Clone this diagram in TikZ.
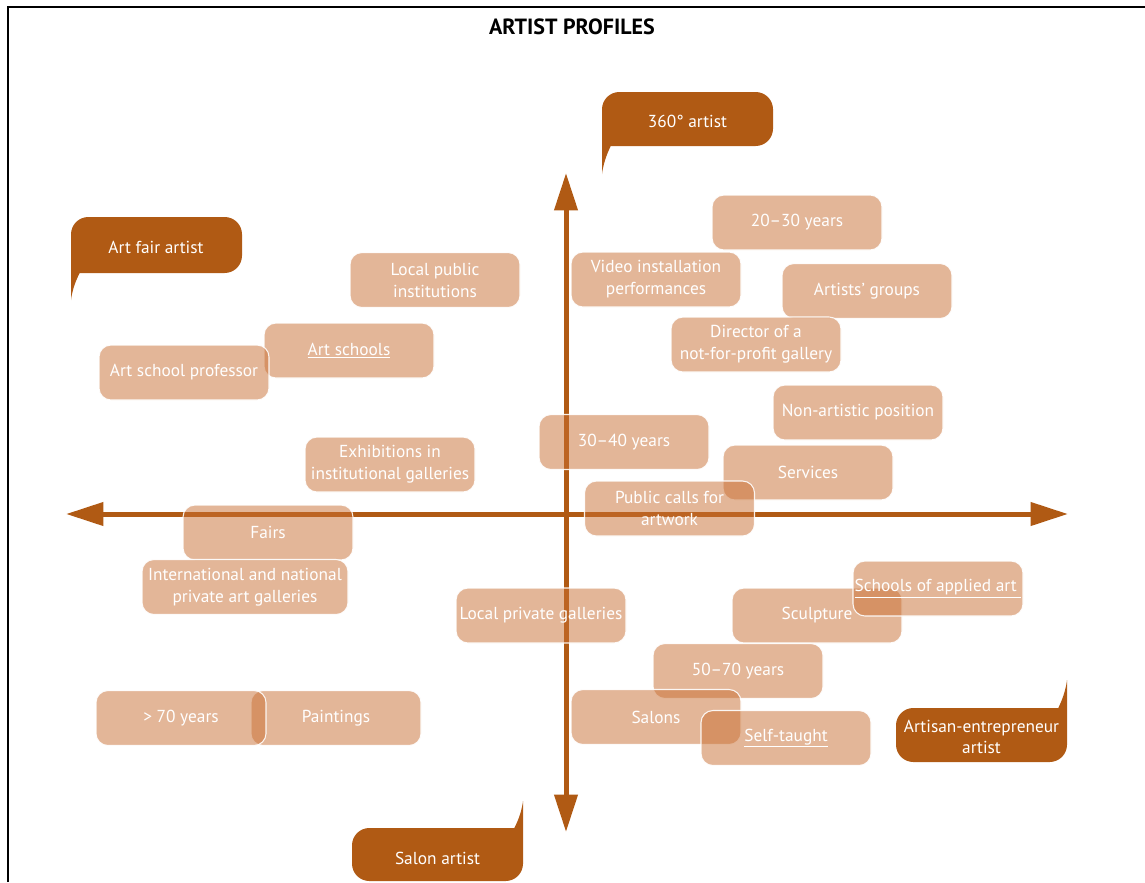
\documentclass[tikz,border=0pt]{standalone}
\usepackage{fontspec}
\setmainfont{PT Sans}
\usetikzlibrary{arrows.meta}
\definecolor{darkbrown}{RGB}{176,90,20}
\definecolor{tanfill}{RGB}{200,110,50}
\tikzset{
  lbox/.style={rounded corners=9pt, fill=tanfill, fill opacity=0.5, text opacity=1,
    draw=white, draw opacity=0.9, line width=0.8pt, text=white, align=center,
    minimum width=127.5pt, minimum height=41.25pt, inner sep=1pt,
    font=\fontsize{13}{16.5}\selectfont},
  ctext/.style={text=white, align=center, font=\fontsize{13}{16}\selectfont, inner sep=0pt},
  callout/.style={fill=darkbrown},
  axis/.style={draw=darkbrown, line width=3.75pt, -{Triangle[length=28pt,width=17pt]}},
}
\begin{document}
\begin{tikzpicture}[x=0.75pt,y=-0.75pt]
\useasboundingbox (0,0) rectangle (1145,882);
% frame
\draw[line width=1.6pt] (8,882) -- (8,7) -- (1145,7);
% title
\node[font=\bfseries\fontsize{16.5}{18}\selectfont] (title) at (572,27) {ARTIST PROFILES};
% axes
\coordinate (xl) at (66,514);
\coordinate (xr) at (1068,514);
\coordinate (yt) at (566,173);
\coordinate (yb) at (566,832);
\coordinate (o) at (566,514);
\draw[axis] (o) -- (xl);
\draw[axis] (o) -- (xr);
\draw[axis] (o) -- (yt);
\draw[axis] (o) -- (yb);
% callouts
\fill[callout] (602,174) [rounded corners=13] -- (602,92) -- (773,92) -- (773,146) -- (628,146) [sharp corners] .. controls (611,146) and (604,158) .. (602,174) -- cycle;
\node[ctext] (c360) at (687.5,121) {360° artist};
\fill[callout] (71,300) [rounded corners=13] -- (71,217) -- (242,217) -- (242,273) -- (97,273) [sharp corners] .. controls (80,273) and (73,284) .. (71,300) -- cycle;
\node[ctext] (cfair) at (156,247) {Art fair artist};
\fill[callout] (1067,680) [rounded corners=13] -- (1067,762) -- (896,762) -- (896,708) -- (1041,708) [sharp corners] .. controls (1058,708) and (1065,696) .. (1067,680) -- cycle;
\node[ctext] (cartisan) at (981.5,737) {Artisan-entrepreneur\\artist};
\fill[callout] (523,801) [rounded corners=13] -- (523,881) -- (352,881) -- (352,828) -- (497,828) [sharp corners] .. controls (514,828) and (521,817) .. (523,801) -- cycle;
\node[ctext] (csalon) at (437.5,858) {Salon artist};
% boxes
\node[lbox] (b2030) at (797,222.5) {20–30 years};
\node[lbox] (blocpub) at (435,280) {Local public\\institutions};
\node[lbox] (bvideo) at (656,279.5) {Video installation\\performances};
\node[lbox] (bgroups) at (867,291) {Artists’ groups};
\node[lbox] (bdirector) at (756,344.5) {Director of a\\not-for-profit gallery};
\node[lbox] (bartsch) at (349,350.5) {\underline{Art schools}};
\node[lbox] (bprof) at (184,372.5) {Art school professor};
\node[lbox] (bnonart) at (858,412.5) {Non-artistic position};
\node[lbox] (b3040) at (624,442) {30–40 years};
\node[lbox] (bexhib) at (390,464.5) {Exhibitions in\\institutional galleries};
\node[lbox] (bservices) at (808,472.5) {Services};
\node[lbox] (bpublic) at (669.5,508.5) {Public calls for\\artwork};
\node[lbox] (bfairs) at (268,532.5) {Fairs};
\node[lbox, minimum width=154.5pt] (bintl) at (245,587) {International and national\\private art galleries};
\node[lbox] (blocpriv) at (541,615.5) {Local private galleries};
\node[lbox] (bsculpt) at (817,615.5) {Sculpture};
\node[lbox] (bschapp) at (938,588.5) {\underline{Schools of applied art\ }};
\node[lbox] (b5070) at (738,671) {50–70 years};
\node[lbox] (bsalons) at (656,717) {Salons};
\node[lbox] (bself) at (786,738) {\underline{Self-taught}};
\node[lbox] (bpaint) at (336,718) {Paintings};
\node[lbox] (b70) at (181,718) {> 70 years};
\end{tikzpicture}
\end{document}
